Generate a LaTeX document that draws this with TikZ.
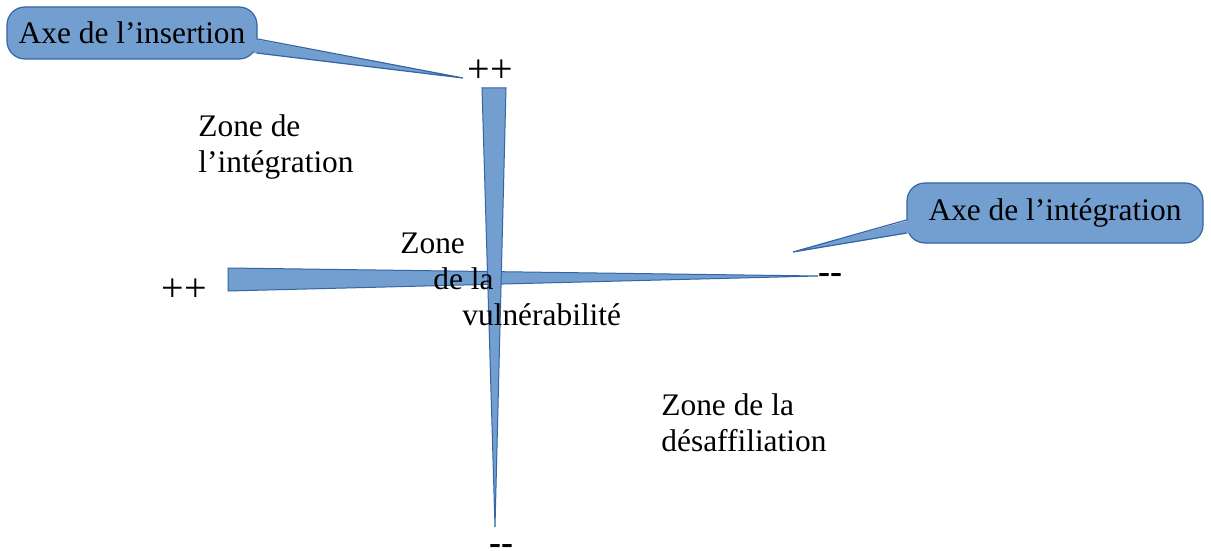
\documentclass[tikz,border=0pt]{standalone}
\usepackage{fontspec}
\setmainfont{Liberation Serif}
\usetikzlibrary{calc}
\definecolor{cfill}{HTML}{729FCF}
\definecolor{cline}{HTML}{3465A4}
\begin{document}
\begin{tikzpicture}[x=0.5pt,y=-0.5pt,
  txt/.style={inner sep=0pt, font=\fontsize{15.7pt}{18pt}\selectfont},
  plustxt/.style={inner sep=0pt, font=\fontsize{20pt}{22pt}\selectfont},
  dashtxt/.style={inner sep=0pt, font=\fontsize{18pt}{20pt}\selectfont\bfseries},
  calloutbox/.style={draw=cline, fill=cfill, line width=0.6pt, rounded corners=9pt, inner sep=0pt, font=\fontsize{15.7pt}{18pt}\selectfont},
  tailfill/.style={fill=cfill},
  tailline/.style={draw=cline, line width=0.6pt, line join=miter},
  axisbar/.style={draw=cline, fill=cfill, line width=0.5pt, line join=miter}
]
\fill[white] (0,0) rectangle (1211,551);
\useasboundingbox (0,0) rectangle (1211,551);

% axes
\path[axisbar] (228,268) -- (228,291) -- (818,276) -- cycle;
\path[axisbar] (482,88) -- (506,88) -- (495,527) -- cycle;

% callout: insertion axis
\node[calloutbox, minimum width=125pt, minimum height=26pt] (ins) at (132,33) {Axe de l’insertion};
\coordinate (insTip) at (463,78);
\fill[tailfill] ($(ins.east)+(-4,6)$) -- (insTip) -- ($(ins.east)+(-4,20)$) -- cycle;
\draw[tailline] ($(ins.east)+(0,6)$) -- (insTip) -- ($(ins.east)+(-1,20)$);

% callout: integration axis
\node[calloutbox, minimum width=148pt, minimum height=30pt] (int) at (1055,213) {Axe de l’intégration};
\coordinate (intTip) at (793,252);
\fill[tailfill] ($(int.west)+(4,7)$) -- (intTip) -- ($(int.west)+(4,20)$) -- cycle;
\draw[tailline] ($(int.west)+(0,7)$) -- (intTip) -- ($(int.west)+(0,20)$);

% zone labels
\node[txt, anchor=base west] (zi) at (198,137) {\begin{tabular}[t]{@{}l@{}}Zone de\\l’intégration\end{tabular}};
\node[txt, anchor=base west] (zd) at (661,415) {\begin{tabular}[t]{@{}l@{}}Zone de la\\désaffiliation\end{tabular}};
\node[txt, anchor=base west] (zv) at (400,253) {\begin{tabular}[t]{@{}l@{}}Zone\\\hspace*{16.5pt}de la\\\hspace*{31pt}vulnérabilité\end{tabular}};

% axis ends
\node[plustxt, anchor=base] (pT) at (490,83) {++};
\node[plustxt, anchor=base] (pL) at (184,301) {++};
\node[dashtxt, anchor=base] (mR) at (830,283) {-{}-};
\node[dashtxt, anchor=base] (mB) at (501,554) {-{}-};
\end{tikzpicture}
\end{document}
